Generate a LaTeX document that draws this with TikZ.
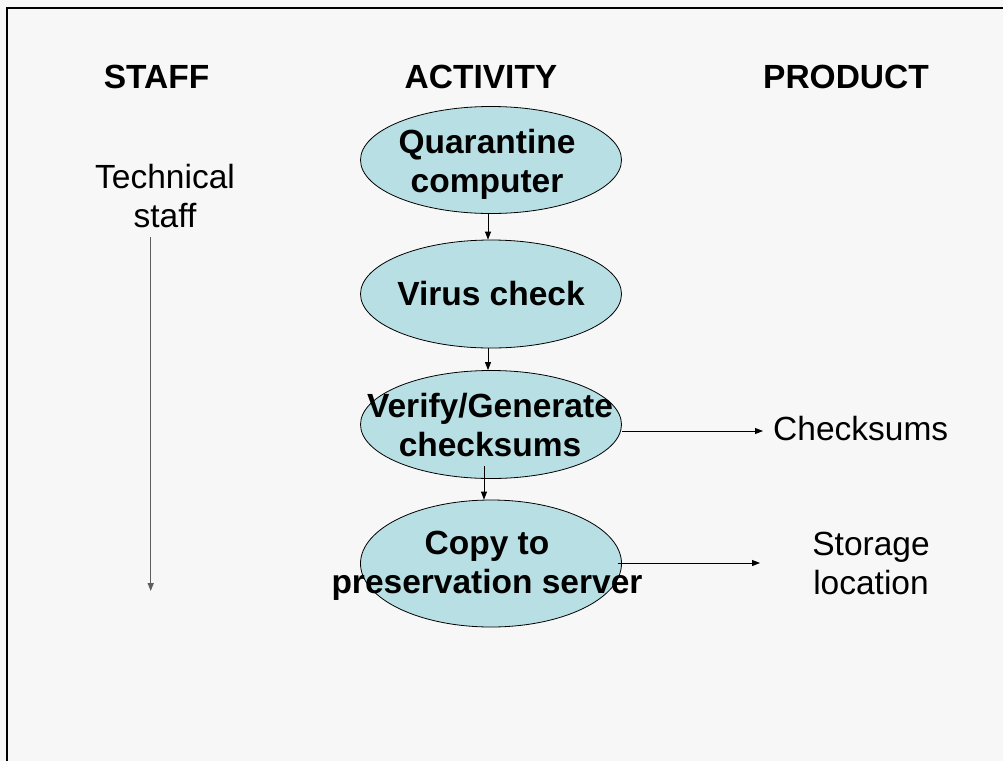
\documentclass[tikz,border=0pt]{standalone}
\usepackage{fontspec}
\setmainfont{Liberation Sans}
\usetikzlibrary{shapes.geometric,arrows.meta}

\definecolor{pagebg}{HTML}{F7F7F7}
\definecolor{bubble}{HTML}{B8DFE3}
\definecolor{staffline}{HTML}{5E5E5E}

\tikzset{
  big/.style={font=\fontsize{33.5}{39}\selectfont, inner sep=0pt},
  header/.style={big, font=\fontsize{33.5}{39}\selectfont\bfseries},
  bubbletext/.style={big, font=\fontsize{33.5}{39}\selectfont\bfseries, align=center},
  plain/.style={big, align=center},
  bubbleshape/.style={ellipse, draw=black, line width=0.8pt, fill=bubble,
    minimum width=261pt, inner sep=0pt},
  arr/.style={draw=black, line width=0.9pt, -{Triangle[length=8pt,width=6pt]}},
  grayarr/.style={draw=staffline, line width=1.4pt, -{Triangle[length=8pt,width=6pt]}},
}

\begin{document}
\begin{tikzpicture}[x=1pt, y=-1pt]
  % page and frame
  \useasboundingbox (0,0) rectangle (1003,761);
  \fill[pagebg] (0,0) rectangle (1003,761);
  \draw[line width=1.5pt] (7,761) -- (7,8) -- (1003,8);

  % column headings
  \node[header, anchor=base] (hstaff)   at (156.5,88) {STAFF};
  \node[header, anchor=base] (hact)     at (481,88)   {ACTIVITY};
  \node[header, anchor=base] (hproduct) at (846,88)   {PRODUCT};

  % staff column
  \node[plain] (tech) at (165,196) {Technical\\staff};
  \coordinate (staffend) at (150.7,591);
  \draw[grayarr] ([yshift=-9pt]tech.south -| staffend) -- (staffend);

  % activity bubbles
  \node[bubbleshape, minimum height=107pt] (e1) at (491,160)   {};
  \node[bubbleshape, minimum height=108pt] (e2) at (491,294)   {};
  \node[bubbleshape, minimum height=108pt] (e3) at (491,424.5) {};
  \node[bubbleshape, minimum height=127pt] (e4) at (491,563.5) {};

  \node[bubbletext] (t1) at (487,164) {Quarantine\\computer};
  \node[bubbletext, anchor=base] (t2) at (491,305) {Virus check};
  \node[bubbletext] (t3) at (490,424.7) {Verify/Generate\\checksums};
  \node[bubbletext] (t4) at (487,566) {Copy to\\preservation server};

  % flow between activities
  \draw[arr] ([xshift=-3pt]e1.south) -- ([xshift=-3pt]e2.north);
  \draw[arr] ([xshift=-3pt]e2.south) -- ([xshift=-3pt]e3.north);
  \draw[arr] ([xshift=-7pt,yshift=12.5pt]e3.south) -- ([xshift=-7pt]e4.north);

  % products
  \node[plain, anchor=base west] (chk) at (773,440) {Checksums};
  \node[plain] (store) at (871,563.7) {Storage\\location};
  \coordinate (chkin) at (763,431);
  \coordinate (storein) at (760,563);
  \draw[arr] (e3.east |- chkin) -- (chkin);
  \draw[arr] ([xshift=-4pt]e4.east |- storein) -- (storein);
\end{tikzpicture}
\end{document}
